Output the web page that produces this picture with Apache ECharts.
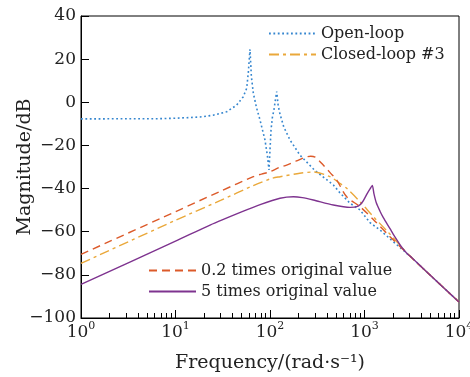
<!DOCTYPE html>
<html>
<head>
<meta charset="utf-8">
<script src="https://cdn.jsdelivr.net/npm/echarts@6/dist/echarts.min.js"></script>
<style>html,body{margin:0;padding:0;background:#fff}#c{width:470px;height:377px}</style>
</head>
<body>
<div id="c"></div>
<script>
// Frequencies (rad/s) and magnitudes (dB)
const openFreq = [1, 6.85, 11.2, 18.2, 25, 34.8, 44.4, 52, 56.7, 59, 61.4, 63.5, 66.6, 72, 78.4, 88.5, 94, 97.6, 100, 102.5, 106, 110, 114, 117.8, 122, 127.6, 140, 163, 207.6, 300, 468, 550, 703, 896, 1143, 1459, 2000, 2800, 3030, 5000, 10000];
const openMag  = [-7.7, -7.6, -7.3, -6.8, -6.0, -4.4, -1.3, 2.5, 6.5, 14, 24.6, 12, 4.2, -2.5, -8.2, -17.5, -25, -31.4, -22, -12.9, -7, -3.6, 1, 5.0, -1.5, -5.5, -11.5, -17.5, -24.5, -31.7, -38.3, -42, -46.8, -49.9, -55.8, -59.2, -64.5, -70, -71.3, -80.3, -92.6];

const closedFreq = [1, 10, 30, 66.6, 104, 128, 207, 290, 431, 550, 648, 896, 1239, 1718, 3030, 5000, 10000];
const closedMag  = [-74.7, -54.7, -45.5, -38.6, -35.3, -34.5, -32.9, -32.3, -34.5, -37.6, -39.9, -46.1, -53, -59.5, -71.3, -80.3, -92.6];

const lowFreq = [1, 10, 30, 66.6, 81, 100, 124, 150, 190, 235, 270, 300, 330, 366, 430, 507, 648, 896, 1239, 1862, 3030, 5000, 10000];
const lowMag  = [-70.5, -50.7, -41.2, -34.5, -33.3, -32.2, -30.3, -29.1, -27.2, -25.5, -25, -25.4, -27, -29.1, -32.5, -36, -43.8, -48.4, -54.3, -62.3, -71.3, -80.3, -92.6];

const highFreq = [1, 10, 23.2, 50, 80, 127.6, 177, 220, 287, 468, 703, 859, 960, 1071, 1150, 1209, 1260, 1330, 1459, 1582, 1862, 2018, 2400, 2800, 3030, 5000, 10000];
const highMag  = [-84.4, -64.4, -56.9, -50.8, -47.3, -44.5, -43.8, -44.2, -45.3, -47.6, -48.7, -48.1, -46, -42.2, -40, -38.5, -42.5, -46.5, -50.5, -53.5, -58.6, -61.2, -66.3, -70, -71.3, -80.3, -92.6];

const seriesNames = ['Open-loop', 'Closed-loop #3', '0.2 times original value', '5 times original value'];
const yTicks = [-100, -80, -60, -40, -20, 0, 20, 40];
const minorTickValues = [];
for (let d = 1; d < 10000; d *= 10) for (let k = 2; k <= 9; k++) minorTickValues.push(k * d);

function pairs(xs, ys) { return xs.map((x, i) => [x, ys[i]]); }

const FONT = 'DejaVu Serif';
const TXT = '#222';
const gridPos = { left: 81, right: 11, top: 16, bottom: 59, outerBoundsMode: 'none', containLabel: false };

const chart = echarts.init(document.getElementById('c'), null, { renderer: 'canvas' });
chart.setOption({
  animation: false,
  textStyle: { fontFamily: FONT, color: TXT },
  grid: [
    Object.assign({ show: true, borderColor: '#000', borderWidth: 1, backgroundColor: 'transparent' }, gridPos),
    Object.assign({ show: false }, gridPos)
  ],
  legend: [
    {
      data: seriesNames.slice(0, 2), orient: 'vertical', left: 263, top: 20,
      itemWidth: 47, itemHeight: 14, itemGap: 4,
      itemStyle: { opacity: 0 },
      textStyle: { fontFamily: FONT, fontSize: 16, color: TXT, lineHeight: 17 }
    },
    {
      data: seriesNames.slice(2), orient: 'vertical', left: 143, top: 257,
      itemWidth: 47, itemHeight: 14, itemGap: 4,
      itemStyle: { opacity: 0 },
      textStyle: { fontFamily: FONT, fontSize: 16, color: TXT, lineHeight: 17 }
    }
  ],
  xAxis: [
    {
      type: 'log', logBase: 10, min: 1, max: 10000, gridIndex: 0,
      name: 'Frequency/(rad\u00b7s\u207b\u00b9)', nameLocation: 'middle', nameGap: 36, nameMoveOverlap: false,
      nameTextStyle: { fontFamily: FONT, fontSize: 19, color: TXT },
      axisLine: { onZero: false, lineStyle: { color: '#000', width: 1 } },
      axisTick: { inside: true, length: 8, lineStyle: { color: '#000' } },
      splitLine: { show: false },
      axisLabel: {
        margin: 3, color: TXT,
        formatter: v => '{b|10}{s|' + Math.round(Math.log10(v)) + '}',
        rich: {
          b: { fontFamily: FONT, fontSize: 17, color: TXT },
          s: { fontFamily: FONT, fontSize: 11, color: TXT, padding: [0, 0, 13, 0] }
        }
      }
    },
    {
      type: 'log', logBase: 10, min: 1, max: 10000, gridIndex: 1, position: 'bottom',
      axisLine: { show: false, onZero: false },
      axisTick: { inside: true, length: 5, customValues: minorTickValues, lineStyle: { color: '#000' } },
      axisLabel: { show: false },
      splitLine: { show: false }
    }
  ],
  yAxis: [
    {
      type: 'value', min: -100, max: 40, interval: 20, gridIndex: 0,
      name: 'Magnitude/dB', nameLocation: 'middle', nameGap: 46, nameMoveOverlap: false,
      nameTextStyle: { fontFamily: FONT, fontSize: 19, color: TXT },
      axisLine: { show: true, onZero: false, lineStyle: { color: '#000', width: 1 } },
      axisTick: { inside: true, length: 8, lineStyle: { color: '#000' } },
      splitLine: { show: false },
      axisLabel: {
        margin: 5, fontFamily: FONT, fontSize: 17, color: TXT,
        customValues: yTicks,
        formatter: v => String(v).replace('-', '\u2212')
      }
    },
    {
      type: 'value', min: -100, max: 40, gridIndex: 1, show: false
    }
  ],
  series: [
    {
      name: seriesNames[0], type: 'line', data: pairs(openFreq, openMag), symbol: 'none',
      xAxisIndex: 0, yAxisIndex: 0,
      lineStyle: { color: '#3586cf', width: 1.6, type: [1.8, 2.6] }, itemStyle: { color: '#3586cf' }
    },
    {
      name: seriesNames[1], type: 'line', data: pairs(closedFreq, closedMag), symbol: 'none', smooth: 0.3,
      xAxisIndex: 0, yAxisIndex: 0,
      lineStyle: { color: '#eaa83a', width: 1.4, type: [10, 4, 3, 4] }, itemStyle: { color: '#eaa83a' }
    },
    {
      name: seriesNames[2], type: 'line', data: pairs(lowFreq, lowMag), symbol: 'none', smooth: 0.3,
      xAxisIndex: 0, yAxisIndex: 0,
      lineStyle: { color: '#dc5a2a', width: 1.4, type: [8, 5] }, itemStyle: { color: '#dc5a2a' }
    },
    {
      name: seriesNames[3], type: 'line', data: pairs(highFreq, highMag), symbol: 'none', smooth: 0.25,
      xAxisIndex: 0, yAxisIndex: 0,
      lineStyle: { color: '#7e338f', width: 1.4, type: 'solid' }, itemStyle: { color: '#7e338f' }
    }
  ]
});
</script>
</body>
</html>
